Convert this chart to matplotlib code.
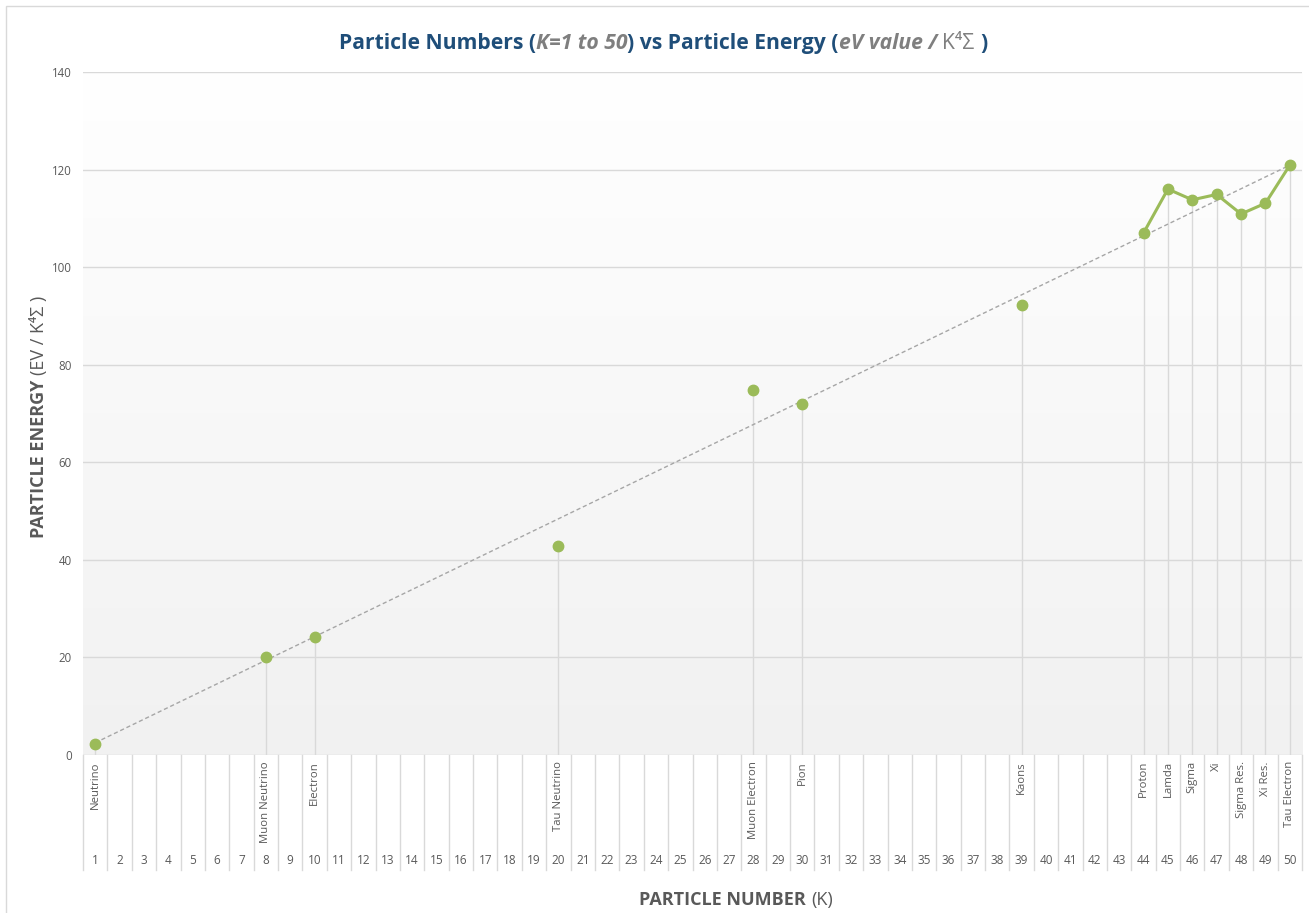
import numpy as np
import matplotlib
matplotlib.use("Agg")
import matplotlib.pyplot as plt
from matplotlib.patches import Rectangle
from matplotlib.lines import Line2D
from matplotlib.colors import LinearSegmentedColormap

# ---------------- data ----------------
categories = list(range(1, 51))
particle_k = [1, 8, 10, 20, 28, 30, 39, 44, 45, 46, 47, 48, 49, 50]
particle_names = ["Neutrino", "Muon Neutrino", "Electron", "Tau Neutrino",
                  "Muon Electron", "Pion", "Kaons", "Proton", "Lamda", "Sigma",
                  "Xi", "Sigma Res.", "Xi Res.", "Tau Electron"]
particle_energy = [2.3, 20.0, 24.2, 42.8, 74.8, 71.9, 92.2, 107.0, 116.0,
                   113.8, 114.9, 110.9, 113.1, 120.9]
y_ticks = [0, 20, 40, 60, 80, 100, 120, 140]

FONT = ["Open Sans", "DejaVu Sans"]
plt.rcParams["font.family"] = FONT

W, H = 1309, 913
fig = plt.figure(figsize=(W / 100, H / 100), dpi=100)
fig.patch.set_facecolor("white")

L, R, T, B = 83, 1302, 72, 755
ax = fig.add_axes([L / W, (H - B) / H, (R - L) / W, (B - T) / H])
for s in ax.spines.values():
    s.set_visible(False)
ax.set_xticks([])
ax.set_yticks(y_ticks)
ax.tick_params(axis="y", length=0, pad=8, labelsize=8.3, labelcolor="#595959")
ax.set_facecolor("none")

# gradient background
grad = np.linspace(0, 1, 256).reshape(-1, 1)
cmap = LinearSegmentedColormap.from_list("g", ["#F1F1F1", "#FFFFFF"])
ax.imshow(grad, extent=[0.5, 50.5, 0, 140], origin="lower", aspect="auto",
          cmap=cmap, zorder=0)
ax.set_xlim(0.5, 50.5)
ax.set_ylim(0, 140)

# gridlines
for v in y_ticks:
    ax.axhline(v, color="#D9D9D9", lw=1.0, zorder=1)

# drop lines
for k, e in zip(particle_k, particle_energy):
    ax.plot([k, k], [0, e], color="#D9D9D9", lw=1.0, zorder=2)

# trendline (linear fit)
coef = np.polyfit(particle_k, particle_energy, 1)
xs = np.array([categories[0], categories[-1]])
ax.plot(xs, np.polyval(coef, xs), color="#A6A6A6", lw=1.0, ls=(0, (3, 2)), zorder=3)

# series: connect only consecutive categories
pk = np.array(particle_k)
pe = np.array(particle_energy)
segs = np.split(np.arange(len(pk)), np.where(np.diff(pk) != 1)[0] + 1)
for sidx in segs:
    ax.plot(pk[sidx], pe[sidx], color="#9BBB59", lw=2.2, marker="o", ms=7.5,
            mec="#9BBB59", mfc="#9BBB59", zorder=4)

# category axis (two levels)
def yfrac(py):
    return (B - py) / (B - T)

tr = ax.get_xaxis_transform()
for k in range(0, 51):
    ax.add_line(Line2D([k + 0.5, k + 0.5], [0, yfrac(870)], transform=tr,
                       color="#D9D9D9", lw=1.0, clip_on=False))
for k in categories:
    ax.text(k, yfrac(860), str(k), transform=tr, ha="center", va="center",
            fontsize=8.5, color="#595959", clip_on=False)
for k, n in zip(particle_k, particle_names):
    ax.text(k, yfrac(761), n, transform=tr, ha="center", va="top", rotation=90,
            fontsize=8.2, color="#595959", clip_on=False)

# rich text helper
fig.canvas.draw()
renderer = fig.canvas.get_renderer()

def measure(s, **kw):
    t = fig.text(0, 0, s, **kw)
    bb = t.get_window_extent(renderer)
    t.remove()
    return bb.width

def rich_h(cx, cy, pieces):
    # pieces: (text, gap_before_px, kwargs); cx, cy in top-origin pixels
    widths = [measure(p[0], **p[2]) for p in pieces]
    total = sum(widths) + sum(p[1] for p in pieces)
    pos = -total / 2
    for (s, gap, kw), w in zip(pieces, widths):
        pos += gap
        fig.text((cx + pos) / W, (H - cy) / H, s, ha="left", va="baseline",
                 rotation_mode="anchor", **kw)
        pos += w

def rich_v(cx, cy, pieces):
    widths = [measure(p[0], **p[2]) for p in pieces]
    total = sum(widths) + sum(p[1] for p in pieces)
    pos = -total / 2
    yb = H - cy
    for (s, gap, kw), w in zip(pieces, widths):
        pos += gap
        fig.text(cx / W, (yb + pos) / H, s, ha="left", va="baseline", rotation=90,
                 rotation_mode="anchor", **kw)
        pos += w

blue = "#1F4E79"
gray = "#7F7F7F"
tsz = 15.2
sp = measure("a a", fontsize=tsz, fontweight="bold") - measure("aa", fontsize=tsz, fontweight="bold")
rich_h(663, 49, [
    ("Particle Numbers (", 0, dict(fontsize=tsz, fontweight="bold", color=blue)),
    ("K=1 to 50", 0, dict(fontsize=tsz, fontweight="bold", fontstyle="italic", color=gray)),
    (") vs Particle Energy (", 0, dict(fontsize=tsz, fontweight="bold", color=blue)),
    ("eV value /", 0, dict(fontsize=tsz, fontweight="bold", fontstyle="italic", color=gray)),
    ("K\u2074\u03A3", sp, dict(fontsize=tsz, color=gray)),
    (")", sp, dict(fontsize=tsz, fontweight="bold", color=blue)),
])

lsz = 13
sp2 = measure("a a", fontsize=lsz) - measure("aa", fontsize=lsz)
rich_h(736, 905, [
    ("PARTICLE NUMBER", 0, dict(fontsize=lsz, fontweight="bold", color="#595959")),
    ("(K)", sp2, dict(fontsize=lsz, color="#595959")),
])

rich_v(44, 417, [
    ("PARTICLE ENERGY", 0, dict(fontsize=lsz, fontweight="bold", color="#595959")),
    ("(EV / K\u2074\u03A3 )", sp2, dict(fontsize=lsz, color="#595959")),
])

# outer chart border
fig.patches.append(Rectangle((6 / W, -0.1), 2, (H - 6) / H + 0.1,
                             transform=fig.transFigure, fill=False,
                             ec="#D9D9D9", lw=1.0))

fig.savefig("out.png", dpi=100)
